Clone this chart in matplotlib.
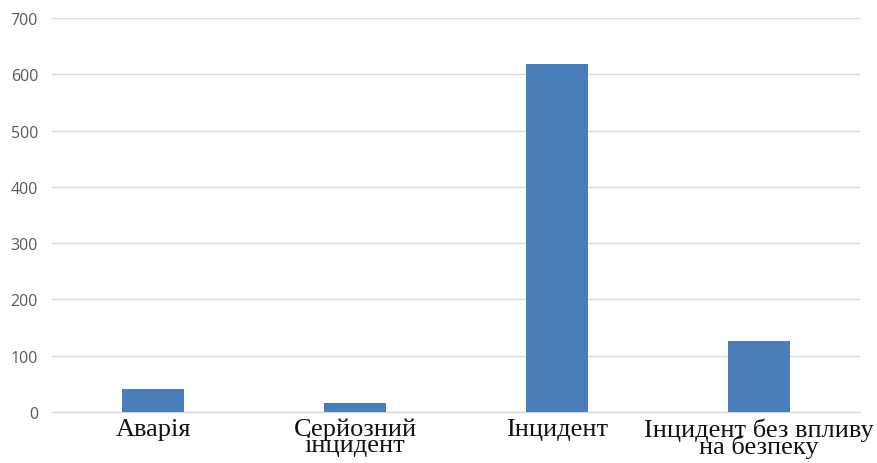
import matplotlib
matplotlib.use("Agg")
import matplotlib.pyplot as plt

categories = ["Аварія", "Серйозний\nінцидент", "Інцидент", "Інцидент без впливу\nна безпеку"]
counts = [41, 16, 618, 126]
y_ticks = [0, 100, 200, 300, 400, 500, 600, 700]

fig = plt.figure(figsize=(8.78, 4.64), dpi=100)
ax = fig.add_axes([52 / 878, 1 - 413 / 464, 808 / 878, 394 / 464])

x = range(len(categories))
ax.bar(x, counts, width=0.31, color="#4a7ebb", zorder=3)

ax.set_xlim(-0.5, len(categories) - 0.5)
ax.set_ylim(0, 700)
ax.set_yticks(y_ticks)
ax.set_yticklabels([str(v) for v in y_ticks], fontsize=11.5, color="#595959",
                   family=["Open Sans", "DejaVu Sans"])
ax.yaxis.grid(True, color="#d9d9d9", linewidth=1.0, zorder=0)
ax.tick_params(axis="y", length=0, pad=10)
ax.tick_params(axis="x", length=0, pad=4)
ax.set_xticks(list(x))
labels = ax.set_xticklabels(categories, fontsize=19, family=["Liberation Serif", "DejaVu Serif"],
                            color="#111111", linespacing=0.66, va="top")
# the long label sits a little left of its bar
labels[3].set_x(2.96)

for side in ["top", "right", "left"]:
    ax.spines[side].set_visible(False)
ax.spines["bottom"].set_color("#d9d9d9")
ax.spines["bottom"].set_linewidth(1.0)

fig.savefig("out.png", dpi=100)
